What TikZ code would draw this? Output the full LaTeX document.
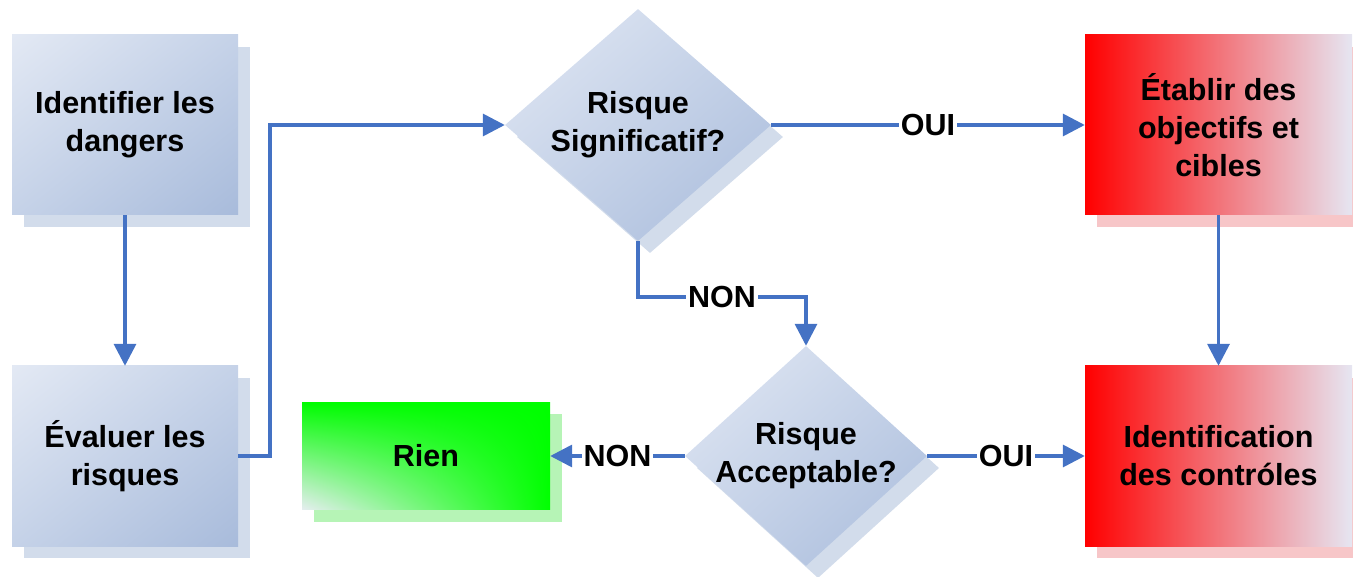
\documentclass[tikz,border=0pt]{standalone}
\usepackage{fontspec}
\setmainfont{Liberation Sans}
\usetikzlibrary{shapes.geometric,shadings,shadows,arrows.meta}

\definecolor{flowblue}{HTML}{4472C4}
\definecolor{bluelight}{HTML}{E3E9F4}
\definecolor{bluemid}{HTML}{C5D2E8}
\definecolor{bluedark}{HTML}{A8BBDB}
\definecolor{blueshade}{HTML}{D2DCEB}
\definecolor{redpale}{HTML}{E6E6F2}
\definecolor{redshade}{HTML}{F7C6C8}
\definecolor{greenpale}{HTML}{E6EEF0}
\definecolor{greenshade}{HTML}{B6F4B6}

\tikzset{
  txt/.style={font=\bfseries\fontsize{30.5}{38}\selectfont, align=center, inner sep=0pt},
  blueshading/.style={upper left=bluelight, upper right=bluemid, lower left=bluemid, lower right=bluedark},
  shadowed/.style={drop shadow={shadow xshift=12pt, shadow yshift=-12pt, fill=#1, opacity=1}},
  bluebox/.style={txt, rectangle, minimum width=226pt, minimum height=180pt, blueshading, shadowed=blueshade},
  decision/.style={diamond, inner sep=0pt, blueshading, shadowed=blueshade},
  redbox/.style={txt, rectangle, minimum width=267pt, minimum height=180pt, left color=red, right color=redpale, shadowed=redshade},
  greenbox/.style={txt, rectangle, minimum width=248pt, minimum height=107pt, upper left=green!90!black!10!green, upper right=green, lower right=green, lower left=greenpale, shadowed=greenshade},
  flow/.style={draw=flowblue, line width=3.5pt, -{Triangle[length=22pt,width=22pt]}},
  lbl/.style={txt, fill=white, inner xsep=2pt, inner ysep=1pt}
}

\begin{document}
\begin{tikzpicture}[x=1pt,y=-1pt]
\useasboundingbox (0,0) rectangle (1353,577);
\coordinate (bend) at (270,456);
\coordinate (nonbend) at (722,297);

\node[bluebox] (dangers) at (125,125) {Identifier les\\dangers};
\node[bluebox] (eval) at (125,456) {Évaluer les\\risques};
\node[decision, minimum width=266pt, minimum height=232pt] (sig) at (638,125) {};
\node[txt] (sigtxt) at (sig) {Risque\\Significatif?};
\node[decision, minimum width=242pt, minimum height=220pt] (acc) at (806,456) {};
\node[txt] (acctxt) at (acc) {Risque\\Acceptable?};
\node[redbox] (objectifs) at (1218.5,125) {Établir des\\objectifs et\\cibles};
\node[redbox] (controles) at (1218.5,456) {Identification\\des contróles};
\node[greenbox] (rien) at (426,456) {Rien};

\draw[flow] (dangers) -- (eval);
\draw[flow] (eval.east) -- (bend) |- (sig.west);
\draw[flow] (sig.east) -- node[lbl] (oui1) {OUI} (objectifs.west);
\draw[flow] (sig.south) |- (nonbend) node[lbl] (non1) {NON} -| (acc.north);
\draw[flow] (acc.west) -- node[lbl] (non2) {NON} (rien.east);
\draw[flow] (acc.east) -- node[lbl] (oui2) {OUI} (controles.west);
\draw[flow] (objectifs) -- (controles);
\end{tikzpicture}
\end{document}
